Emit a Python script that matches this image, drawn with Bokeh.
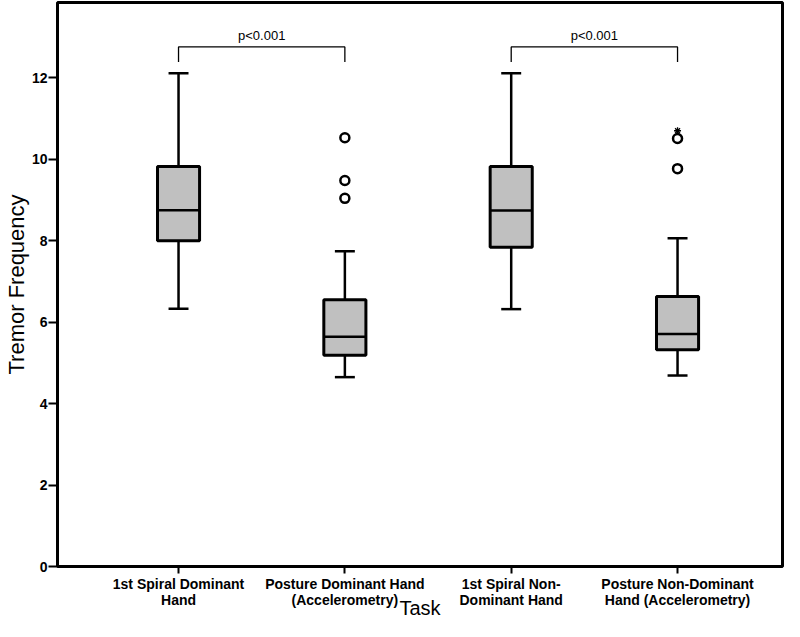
from bokeh.plotting import figure
from bokeh.models import Range1d, FixedTicker, ColumnDataSource
from bokeh.embed import file_html
from bokeh.resources import INLINE
from bokeh.core.properties import value

# ---- data ----
tasks = ["1st Spiral Dominant\nHand", "Posture Dominant Hand\n(Accelerometry)",
         "1st Spiral Non-\nDominant Hand", "Posture Non-Dominant\nHand (Accelerometry)"]
task_pos = [0, 1, 2, 3]
lower_whisker = [6.33, 4.65, 6.32, 4.69]
q1 = [8.00, 5.19, 7.84, 5.32]
median = [8.75, 5.64, 8.74, 5.71]
q3 = [9.82, 6.55, 9.82, 6.63]
upper_whisker = [12.11, 7.74, 12.11, 8.06]

outlier_task = [1, 1, 1, 3, 3]
outlier_value = [10.53, 9.48, 9.04, 10.51, 9.77]
extreme_task = [3]
extreme_value = [10.70]

bracket_left = [0, 2]
bracket_right = [1, 3]
bracket_label = ["p<0.001", "p<0.001"]
y_ticks = [0, 2, 4, 6, 8, 10, 12]

FONT = "Liberation Sans"
BOX_W = 0.253
CAP_W = 0.12

p = figure(width=784, height=621, output_backend="svg", toolbar_location=None,
           x_range=Range1d(-0.7276, 3.631), y_range=Range1d(0, 13.85),
           min_border_left=57, min_border_right=2, min_border_top=2, min_border_bottom=54)
p.xgrid.visible = False
p.ygrid.visible = False
p.outline_line_color = "black"
p.outline_line_width = 3
p.outline_line_alpha = 1

src = ColumnDataSource(dict(x=task_pos, lw=lower_whisker, q1=q1, med=median, q3=q3, uw=upper_whisker,
                            cl=[x - CAP_W / 2 for x in task_pos], cr=[x + CAP_W / 2 for x in task_pos],
                            bl=[x - BOX_W / 2 for x in task_pos], br=[x + BOX_W / 2 for x in task_pos]))

# whiskers
p.segment(x0="x", y0="q3", x1="x", y1="uw", source=src, line_color="black", line_width=2.5)
p.segment(x0="x", y0="q1", x1="x", y1="lw", source=src, line_color="black", line_width=2.5)
p.segment(x0="cl", y0="uw", x1="cr", y1="uw", source=src, line_color="black", line_width=2.5)
p.segment(x0="cl", y0="lw", x1="cr", y1="lw", source=src, line_color="black", line_width=2.5)
# boxes
p.vbar(x="x", width=BOX_W, bottom="q1", top="q3", source=src, fill_color="#c0c0c0",
       line_color="black", line_width=3)
p.segment(x0="bl", y0="med", x1="br", y1="med", source=src, line_color="black", line_width=2.5)

# outliers
p.scatter(outlier_task, outlier_value, marker="circle", size=9, fill_color="white",
          line_color="black", line_width=2.5)
p.scatter(extreme_task, extreme_value, marker="asterisk", size=7, line_color="black", line_width=1.3)

# significance brackets
BR_Y = 12.76
BR_DROP = 12.39
xs = [[l, l, r, r] for l, r in zip(bracket_left, bracket_right)]
ys = [[BR_DROP, BR_Y, BR_Y, BR_DROP] for _ in bracket_left]
p.multi_line(xs, ys, line_color="black", line_width=1.3)
p.text(x=[(l + r) / 2 for l, r in zip(bracket_left, bracket_right)], y=[13.05] * len(bracket_left),
       text=bracket_label, text_font=value(FONT), text_font_size="13px",
       text_align="center", text_baseline="middle", text_color="black")

# axes
p.xaxis.ticker = FixedTicker(ticks=task_pos)
p.xaxis.major_label_overrides = {t: lab for t, lab in zip(task_pos, tasks)}
p.yaxis.ticker = FixedTicker(ticks=y_ticks)
for ax in (p.xaxis[0], p.yaxis[0]):
    ax.axis_line_color = None
    ax.major_tick_in = 0
    ax.minor_tick_out = 0
    ax.minor_tick_in = 0
    ax.major_tick_line_width = 2
    ax.major_tick_line_color = "black"
    ax.major_label_text_font = FONT
    ax.major_label_text_font_style = "bold"
    ax.major_label_text_font_size = "14px"
    ax.major_label_text_color = "black"
    ax.major_label_text_line_height = 1.0
    ax.axis_label_text_font = FONT
    ax.axis_label_text_font_style = "normal"
    ax.axis_label_text_color = "black"
    ax.axis_label_text_line_height = 1.0
p.xaxis.major_tick_out = 7
p.yaxis.major_tick_out = 9
p.xaxis.axis_label = "Task"
p.yaxis.axis_label = "Tremor Frequency"
p.xaxis.axis_label_text_font_size = "20px"
p.yaxis.axis_label_text_font_size = "22px"
p.xaxis.major_label_standoff = 2
p.yaxis.major_label_standoff = 1
p.xaxis.axis_label_standoff = -14
p.yaxis.axis_label_standoff = 0

open("out.html", "w").write(file_html(p, INLINE))
